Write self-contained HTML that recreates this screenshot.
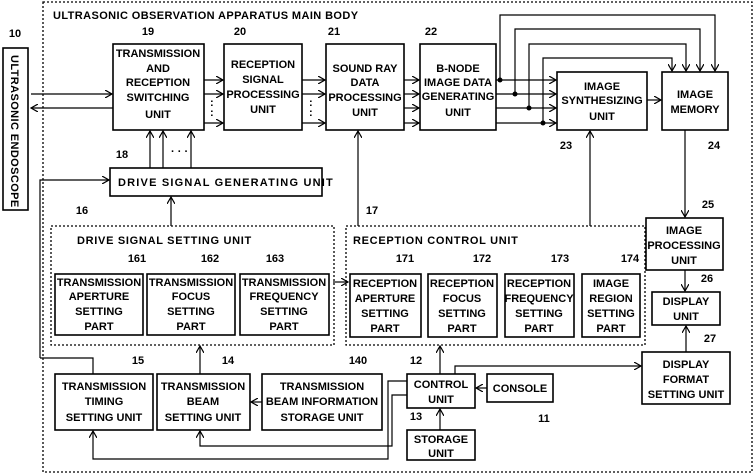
<!DOCTYPE html>
<html><head><style>body{margin:0;background:#fff}svg{display:block}text{font-family:"Liberation Sans",sans-serif;font-size:11px;font-weight:bold;fill:#000}</style></head><body>
<svg width="756" height="476" viewBox="0 0 756 476" xmlns="http://www.w3.org/2000/svg">
<defs><marker id="a" markerWidth="8" markerHeight="8" refX="7" refY="4" orient="auto" markerUnits="userSpaceOnUse"><path d="M0,0 L7,4 L0,8" fill="none" stroke="#000" stroke-width="1.2"/></marker></defs>
<g fill="none" stroke="#000" stroke-width="1.3" stroke-dasharray="2,2">
<rect x="43" y="2" width="709" height="470"/>
<rect x="51" y="226" width="283" height="119"/>
<rect x="346" y="226" width="299" height="119"/>
</g>
<g fill="#fff" stroke="#000" stroke-width="1.6">
<rect x="3" y="48" width="25" height="162"/>
<rect x="113" y="44" width="91" height="86"/>
<rect x="224" y="44" width="78" height="86"/>
<rect x="326" y="44" width="78" height="86"/>
<rect x="420" y="44" width="76" height="86"/>
<rect x="557" y="72" width="90" height="58"/>
<rect x="662" y="72" width="66" height="58"/>
<rect x="110" y="168" width="212" height="28"/>
<rect x="55" y="274" width="88" height="61"/>
<rect x="147" y="274" width="88" height="61"/>
<rect x="240" y="274" width="89" height="61"/>
<rect x="350" y="274" width="71" height="63"/>
<rect x="428" y="274" width="69" height="63"/>
<rect x="505" y="274" width="69" height="63"/>
<rect x="582" y="274" width="58" height="63"/>
<rect x="646" y="218" width="77" height="52"/>
<rect x="652" y="292" width="68" height="33"/>
<rect x="642" y="352" width="88" height="52"/>
<rect x="55" y="374" width="98" height="56"/>
<rect x="157" y="374" width="93" height="56"/>
<rect x="262" y="374" width="120" height="56"/>
<rect x="407" y="374" width="68" height="34"/>
<rect x="487" y="374" width="66" height="28"/>
<rect x="407" y="430" width="68" height="30"/>
</g>
<g fill="none" stroke="#000" stroke-width="1.2" marker-end="url(#a)">
<path d="M31 94H112"/><path d="M113 108H31"/>
<path d="M204 80H223"/><path d="M204 94H223"/><path d="M204 123H223"/>
<path d="M302 80H325"/><path d="M302 94H325"/><path d="M302 123H325"/>
<path d="M404 80H419"/><path d="M404 94H419"/><path d="M404 108H419"/><path d="M404 123H419"/>
<path d="M496 80H556"/><path d="M496 94H556"/><path d="M496 108H556"/><path d="M496 123H556"/>
<path d="M500 80V15H715V71"/><path d="M515 94V29H700V71"/><path d="M529 108V44H686V71"/><path d="M543 123V58H672V71"/>
<path d="M647 100H661"/>
<path d="M685 130V217"/><path d="M685 270V291"/><path d="M686 352V326"/>
<path d="M150 168V131"/><path d="M163 168V131"/><path d="M191 168V131"/>
<path d="M40 358V180H109"/>
<path d="M358 226V131"/><path d="M590 226V131"/>
<path d="M171 226V197"/>
<path d="M333 282H348"/>
<path d="M262 402H251"/>
<path d="M200 374V346"/>
<path d="M440 374V346"/>
<path d="M487 388H476"/>
<path d="M440 430V409"/>
<path d="M455 374V366H641"/>
<path d="M407 381H388V459H93V431"/>
<path d="M407 395H392V446H200V431"/>
</g>
<path d="M93 374V358H40" stroke="#000" stroke-width="1.2" fill="none"/>
<g fill="#000"><circle cx="500" cy="80" r="2.5"/><circle cx="515" cy="94" r="2.5"/><circle cx="529" cy="108" r="2.5"/><circle cx="543" cy="123" r="2.5"/></g>
<g font-size="11"><text x="210" y="106">:</text><text x="210" y="116">:</text><text x="309" y="106">:</text><text x="309" y="116">:</text><text x="171" y="155">· · ·</text></g>
<text x="53" y="19" letter-spacing="0.4">ULTRASONIC OBSERVATION APPARATUS MAIN BODY</text>
<text transform="translate(11,55) rotate(90)" letter-spacing="0.4">ULTRASONIC ENDOSCOPE</text>
<text x="118" y="186" letter-spacing="1.2">DRIVE SIGNAL GENERATING UNIT</text>
<text x="77" y="244" letter-spacing="0.7">DRIVE SIGNAL SETTING UNIT</text>
<text x="353" y="244" letter-spacing="0.7">RECEPTION CONTROL UNIT</text>
<g text-anchor="middle">
<text x="15" y="37">10</text><text x="148" y="35">19</text><text x="240" y="35">20</text><text x="334" y="35">21</text><text x="431" y="35">22</text>
<text x="566" y="149">23</text><text x="714" y="149">24</text><text x="708" y="208">25</text><text x="707" y="282">26</text><text x="710" y="342">27</text>
<text x="122" y="158">18</text><text x="82" y="214">16</text><text x="372" y="214">17</text>
<text x="137" y="262">161</text><text x="210" y="262">162</text><text x="275" y="262">163</text>
<text x="405" y="262">171</text><text x="482" y="262">172</text><text x="560" y="262">173</text><text x="630" y="262">174</text>
<text x="138" y="364">15</text><text x="228" y="364">14</text><text x="358" y="364">140</text><text x="416" y="364">12</text><text x="416" y="420">13</text><text x="544" y="422">11</text>
<text x="158" y="57">TRANSMISSION</text><text x="158" y="72">AND</text><text x="158" y="86">RECEPTION</text><text x="158" y="101">SWITCHING</text><text x="158" y="118">UNIT</text>
<text x="263" y="68">RECEPTION</text><text x="263" y="83">SIGNAL</text><text x="263" y="98">PROCESSING</text><text x="263" y="113">UNIT</text>
<text x="365" y="72">SOUND RAY</text><text x="365" y="86">DATA</text><text x="365" y="101">PROCESSING</text><text x="365" y="116">UNIT</text>
<text x="458" y="72">B-NODE</text><text x="458" y="86">IMAGE DATA</text><text x="458" y="100">GENERATING</text><text x="458" y="116">UNIT</text>
<text x="602" y="90">IMAGE</text><text x="602" y="104">SYNTHESIZING</text><text x="602" y="120">UNIT</text>
<text x="695" y="98">IMAGE</text><text x="695" y="113">MEMORY</text>
<text x="99" y="286">TRANSMISSION</text><text x="99" y="300">APERTURE</text><text x="99" y="315">SETTING</text><text x="99" y="330">PART</text>
<text x="191" y="286">TRANSMISSION</text><text x="191" y="300">FOCUS</text><text x="191" y="315">SETTING</text><text x="191" y="330">PART</text>
<text x="284" y="286">TRANSMISSION</text><text x="284" y="300">FREQUENCY</text><text x="284" y="315">SETTING</text><text x="284" y="330">PART</text>
<text x="385" y="287">RECEPTION</text><text x="385" y="302">APERTURE</text><text x="385" y="317">SETTING</text><text x="385" y="332">PART</text>
<text x="462" y="287">RECEPTION</text><text x="462" y="302">FOCUS</text><text x="462" y="317">SETTING</text><text x="462" y="332">PART</text>
<text x="539" y="287">RECEPTION</text><text x="539" y="302">FREQUENCY</text><text x="539" y="317">SETTING</text><text x="539" y="332">PART</text>
<text x="611" y="287">IMAGE</text><text x="611" y="302">REGION</text><text x="611" y="317">SETTING</text><text x="611" y="332">PART</text>
<text x="684" y="234">IMAGE</text><text x="684" y="249">PROCESSING</text><text x="684" y="264">UNIT</text>
<text x="686" y="305">DISPLAY</text><text x="686" y="320">UNIT</text>
<text x="686" y="368">DISPLAY</text><text x="686" y="383">FORMAT</text><text x="686" y="398">SETTING UNIT</text>
<text x="104" y="390">TRANSMISSION</text><text x="104" y="405">TIMING</text><text x="104" y="421">SETTING UNIT</text>
<text x="203" y="390">TRANSMISSION</text><text x="203" y="405">BEAM</text><text x="203" y="421">SETTING UNIT</text>
<text x="322" y="390">TRANSMISSION</text><text x="322" y="405">BEAM INFORMATION</text><text x="322" y="421">STORAGE UNIT</text>
<text x="441" y="388">CONTROL</text><text x="441" y="403">UNIT</text>
<text x="520" y="392">CONSOLE</text>
<text x="441" y="443">STORAGE</text><text x="441" y="457">UNIT</text>
</g>
</svg>
</body></html>
